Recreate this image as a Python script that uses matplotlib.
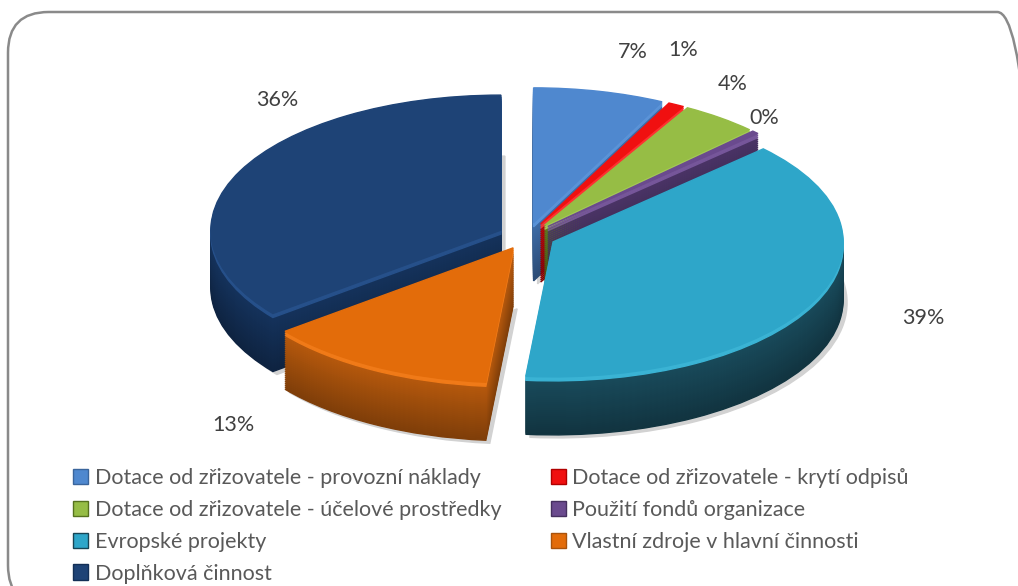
import numpy as np
import matplotlib.pyplot as plt
from matplotlib.patches import FancyBboxPatch, Patch
from matplotlib.colors import to_rgb

# slice data (percent share)
labels = ["Dotace od zřizovatele - provozní náklady",
          "Dotace od zřizovatele - krytí odpisů",
          "Dotace od zřizovatele - účelové prostředky",
          "Použití fondů organizace",
          "Evropské projekty",
          "Vlastní zdroje v hlavní činnosti",
          "Doplňková činnost"]
shares = [7.3, 0.9, 4.3, 0.4, 38.6, 12.9, 35.6]

top_colors = ["#4f88cf", "#f01010", "#96bd45", "#6a4a8e", "#2ea6c9", "#e36c0a", "#1e4376"]
side_colors = ["#3a659c", "#b00000", "#56721e", "#45305f", "#174555", "#a9530c", "#132f56"]
rim_colors = ["#5a93d8", "#ff3030", "#a4c955", "#76569a", "#3ab3d4", "#f07a18", "#26508a"]

# layout in pixels (figure is 1018 x 586)
W, H = 1018, 586
cx, cy = 527, 236      # pie centre
rx, ry = 290, 135      # ellipse half axes
depth = 58             # thickness of the disc
explode = [0.1] * len(shares)

plt.rcParams['font.family'] = ['Lato', 'DejaVu Sans']

fig = plt.figure(figsize=(W / 100, H / 100), dpi=100)
ax = fig.add_axes([0, 0, 1, 1])

def dy(px):
    return -px / ry

# soft shadow
ax.pie(shares, explode=explode, startangle=90, counterclock=False,
       colors=["#d2d2d2"] * len(shares), center=(4 / rx, dy(depth + 3)),
       wedgeprops=dict(linewidth=1, edgecolor="#d2d2d2"))

# side walls: stack of pies, darker to the bottom
step = 2
for off in range(depth, 0, -step):
    t = off / depth
    cols = [np.clip(np.array(to_rgb(sc)) * (1.1 - 0.35 * t), 0, 1) for sc in side_colors]
    if off <= 4:
        cols = rim_colors
    ax.pie(shares, explode=explode, startangle=90, counterclock=False,
           colors=cols, center=(0, dy(off)), wedgeprops=dict(linewidth=1))
    for w, c in zip(ax.patches[-len(shares):], cols):
        w.set_edgecolor(c)

# top face
wedges, _, pct = ax.pie(shares, explode=explode, startangle=90, counterclock=False,
                        colors=top_colors, autopct='%.0f%%',
                        wedgeprops=dict(linewidth=1),
                        textprops=dict(fontsize=15.5, color="#404040"))
for w, c in zip(wedges, top_colors):
    w.set_edgecolor(c)

ax.set_aspect('auto')
ax.set_xlim(-cx / rx, (W - cx) / rx)
ax.set_ylim(-(H - cy) / ry, cy / ry)
ax.axis('off')

# percentage labels placed where the original puts them (pixel coords)
label_px = [(633, 52), (683, 50), (733, 84), (764, 118), (923, 318), (233, 425), (277, 100)]
for t, (px, py) in zip(pct, label_px):
    t.set_position(((px - cx) / rx, (cy - py) / ry))
    t.set_ha('center')
    t.set_va('center')

# legend, row-wise order in two columns
handles = [Patch(facecolor=top_colors[i], edgecolor=side_colors[i], label=labels[i])
           for i in range(len(labels))]
order = [0, 2, 4, 6, 1, 3, 5]
fig.legend([handles[i] for i in order], [labels[i] for i in order],
           ncol=2, loc='upper left', bbox_to_anchor=(73 / W, 1 - 468 / H),
           frameon=False, fontsize=15.5, labelcolor="#595959",
           handlelength=0.7, handleheight=0.7, handletextpad=0.3,
           columnspacing=2.3, labelspacing=0.55, borderaxespad=0, borderpad=0)

# rounded chart border
box = FancyBboxPatch((8 / W, -20 / H), 1030 / W, (H - 12 + 20) / H,
                     boxstyle="round,pad=0,rounding_size=0.04",
                     transform=fig.transFigure, facecolor="none",
                     edgecolor="#8a8a8a", linewidth=1.8, mutation_aspect=W / H)
fig.patches.append(box)

plt.savefig("out.png", dpi=100)
